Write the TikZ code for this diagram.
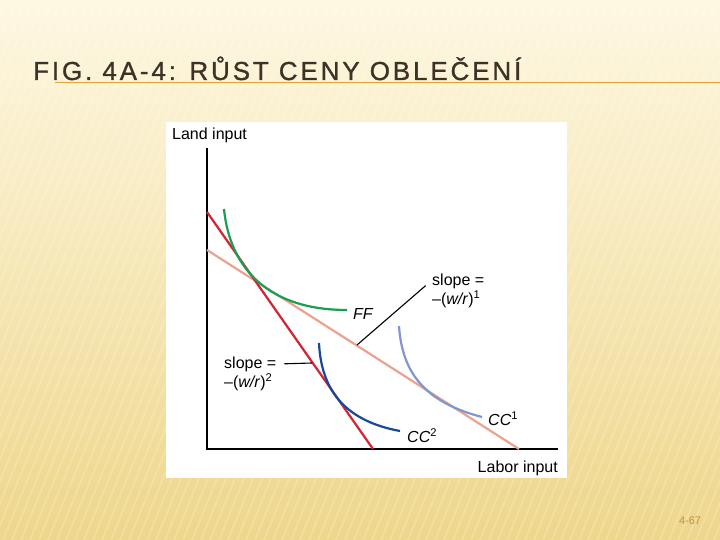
\documentclass[tikz,border=0pt]{standalone}
\usepackage{fontspec}
\setmainfont{Liberation Sans}
\newfontfamily\titlefont[LetterSpace=11, FakeBold=1]{Liberation Sans}
\usepackage{tikz}

\definecolor{bgpale}{RGB}{254,248,226}
\definecolor{bgmid}{RGB}{250,234,185}
\definecolor{bgdeep}{RGB}{238,214,138}
\definecolor{titlegray}{RGB}{60,50,38}
\definecolor{rulegold}{RGB}{226,162,56}
\definecolor{budgetred}{RGB}{212,36,52}
\definecolor{budgetpink}{RGB}{236,162,142}
\definecolor{ffgreen}{RGB}{28,158,82}
\definecolor{ccnavy}{RGB}{24,72,152}
\definecolor{ccsky}{RGB}{128,150,204}
\definecolor{pagegold}{RGB}{190,150,70}

\begin{document}
\begin{tikzpicture}[
  x=1pt, y=-1pt,
  lbl/.style={
    font=\fontsize{16}{18}\selectfont,
    inner sep=1pt
  },
  stripe/.style={white, opacity=0.18, line width=2pt},
  axisline/.style={line width=2.2pt, black},
  budget/.style={line width=2.2pt},
  isoq/.style={line width=2.2pt},
  leader/.style={line width=1.1pt, black, shorten <=7pt}
]

% slide background
\shade[top color=bgpale, middle color=bgmid, bottom color=bgdeep]
  (0,0) rectangle (720,540);
\begin{scope}
  \clip (0,0) rectangle (720,540);
  \foreach \sx in {-240,-231,...,720}
    \draw[stripe] (\sx,540) -- (\sx+220,0);
\end{scope}
\useasboundingbox (0,0) rectangle (720,540);

% title and rule
\node[anchor=base west, inner sep=0pt, text=titlegray,
  font=\titlefont\fontsize{26}{28}\selectfont] (title) at (33,80)
  {FIG. 4A-4: RŮST CENY OBLEČENÍ};
\draw[rulegold, line width=1.2pt] (55,82.5) -- (720,82.5);

% figure panel
\fill[white] (166,122) rectangle (567,478);

% axes
\coordinate (origin) at (207,449);
\coordinate (ytop) at (207,148);
\coordinate (xend) at (558,449);
\draw[axisline] (ytop) -- (origin) -- (xend);

\node[lbl, anchor=west] (landlbl) at (171,135) {Land input};
\node[lbl, anchor=east] (laborlbl) at (559,468) {Labor input};

% isocost lines
\coordinate (redtop) at (207,212);
\coordinate (redbot) at (373,449);
\coordinate (pinktop) at (207,250);
\coordinate (pinkbot) at (519,449);
\draw[budget, budgetpink] (pinktop) -- (pinkbot);
\draw[budget, budgetred] (redtop) -- (redbot);

% isoquants
\draw[isoq, ffgreen] (224,209) .. controls (230,270) and (270,310) .. (347,310);
\draw[isoq, ccnavy] (319,343) .. controls (321,385) and (340,420) .. (400,431);
\draw[isoq, ccsky] (399,326) .. controls (402,372) and (424,402) .. (482,417);

\node[lbl, anchor=west] (fflbl) at (352,314) {\textit{FF}};
\node[lbl, anchor=west] (cctwo) at (406,436) {\textit{CC}\textsuperscript{2}};
\node[lbl, anchor=west] (ccone) at (487,419) {\textit{CC}\textsuperscript{1}};

% slope labels
\node[lbl, anchor=west] (slopeA) at (431,281) {slope =};
\node[lbl, anchor=north west] (slopeAval) at (slopeA.south west)
  {–(\textit{w/r})\textsuperscript{1}};
\coordinate (onpink) at (357,345);
\draw[leader] (slopeA.west) -- (onpink);

\node[lbl, anchor=west] (slopeB) at (223,364) {slope =};
\node[lbl, anchor=north west] (slopeBval) at (slopeB.south west)
  {–(\textit{w/r})\textsuperscript{2}};
\coordinate (onred) at (312,363);
\draw[leader] (slopeB.east) -- (onred);

% page number
\node[text=pagegold, font=\fontsize{11}{12}\selectfont] (pagenum) at (690,521) {4-67};

\end{tikzpicture}
\end{document}
